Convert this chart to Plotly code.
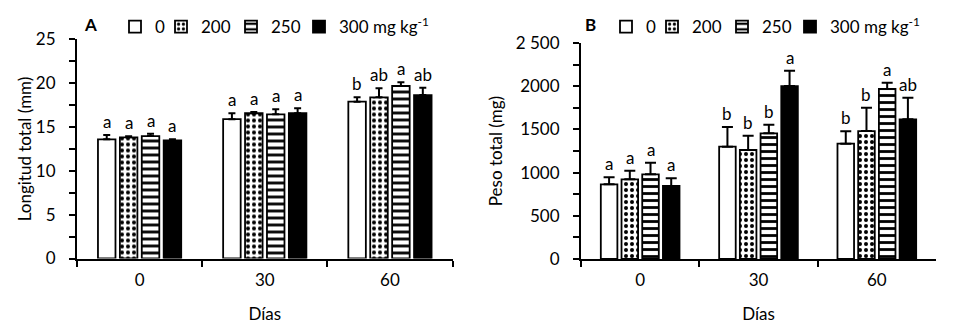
import plotly.graph_objects as go

# ---------------- data ----------------
days = ["0", "30", "60"]
doses = ["0", "200", "250", "300 mg kg<sup>-1</sup>"]

# Panel A: Longitud total (mm)
len_0 = [13.6, 15.9, 17.9]
len_0_err = [0.5, 0.69, 0.5]
len_200 = [13.83, 16.58, 18.4]
len_200_err = [0.12, 0.14, 1.03]
len_250 = [13.98, 16.46, 19.69]
len_250_err = [0.27, 0.57, 0.42]
len_300 = [13.49, 16.58, 18.66]
len_300_err = [0.11, 0.57, 0.84]
len_letters_0 = ["a", "a", "b"]
len_letters_200 = ["a", "a", "ab"]
len_letters_250 = ["a", "a", "a"]
len_letters_300 = ["a", "a", "ab"]

# Panel B: Peso total (mg)
peso_0 = [865, 1300, 1335]
peso_0_err = [80, 228, 143]
peso_200 = [922, 1262, 1481]
peso_200_err = [100, 165, 270]
peso_250 = [980, 1455, 1968]
peso_250_err = [135, 100, 73]
peso_300 = [845, 2002, 1617]
peso_300_err = [89, 178, 250]
peso_letters_0 = ["a", "b", "b"]
peso_letters_200 = ["a", "b", "b"]
peso_letters_250 = ["a", "b", "a"]
peso_letters_300 = ["a", "a", "ab"]

len_ticks = [0, 5, 10, 15, 20, 25]
len_ticktext = ["0", "5", "10", "15", "20", "25"]
peso_ticks = [0, 500, 1000, 1500, 2000, 2500]
peso_ticktext = ["0", "500", "1000", "1500", "2000", "2 500"]

# ---------------- styles ----------------
FONT = "Lato"
FS = 17
styles = [
    dict(color="white", pattern=dict(shape="")),
    dict(color="white", pattern=dict(shape=".", size=6, solidity=0.35,
                                      fgcolor="black", bgcolor="white", fillmode="replace")),
    dict(color="white", pattern=dict(shape="-", size=7, solidity=0.4,
                                      fgcolor="black", bgcolor="white", fillmode="replace")),
    dict(color="black", pattern=dict(shape="")),
]
legend_widths = [1, 25, 23, 0]
BARGAP = 0.3

fig = go.Figure()

panels = [
    dict(xa="x", ya="y", legend="legend", cap=3.5,
         vals=[len_0, len_200, len_250, len_300],
         errs=[len_0_err, len_200_err, len_250_err, len_300_err],
         letters=[len_letters_0, len_letters_200, len_letters_250, len_letters_300]),
    dict(xa="x2", ya="y2", legend="legend2", cap=5.5,
         vals=[peso_0, peso_200, peso_250, peso_300],
         errs=[peso_0_err, peso_200_err, peso_250_err, peso_300_err],
         letters=[peso_letters_0, peso_letters_200, peso_letters_250, peso_letters_300]),
]

n = len(doses)
slot = (1 - BARGAP) / n
for p in panels:
    for k in range(n):
        st = styles[k]
        kw = {}
        if legend_widths[k]:
            kw["legendwidth"] = legend_widths[k]
        fig.add_trace(go.Bar(
            x=days, y=p["vals"][k], name=doses[k],
            xaxis=p["xa"], yaxis=p["ya"], legend=p["legend"],
            marker=dict(color=st["color"], line=dict(color="black", width=1.8),
                        pattern=st["pattern"]),
            error_y=dict(type="data", symmetric=False, array=p["errs"][k],
                         arrayminus=[0] * len(days), color="black",
                         thickness=2, width=p["cap"]),
            **kw,
        ))
        offset = -(1 - BARGAP) / 2 + slot * (k + 0.5)
        for i, d in enumerate(days):
            fig.add_annotation(
                x=i + offset, y=p["vals"][k][i] + p["errs"][k][i],
                xref=p["xa"], yref=p["ya"], text=p["letters"][k][i],
                showarrow=False, yanchor="bottom", yshift=1,
                font=dict(family=FONT, size=FS, color="black"))

axis_common = dict(showline=True, linecolor="black", linewidth=2,
                   showgrid=False, zeroline=False, ticks="outside",
                   tickcolor="black", tickwidth=2, ticklen=6, automargin=False,
                   tickfont=dict(family=FONT, size=FS, color="black"))

fig.update_layout(
    width=960, height=331,
    margin=dict(l=0, r=0, t=0, b=0),
    paper_bgcolor="white", plot_bgcolor="white",
    barmode="group", bargap=BARGAP, bargroupgap=0.2,
    font=dict(family=FONT, size=FS, color="black"),
    xaxis=dict(domain=[0.0802, 0.4714], type="category", tickson="boundaries",
               anchor="y", ticklabelstandoff=5,
               title=dict(text="Días", font=dict(family=FONT, size=FS), standoff=19),
               **axis_common),
    yaxis=dict(domain=[0.219, 0.8807], range=[0, 25], anchor="x",
               tickvals=len_ticks, ticktext=len_ticktext, ticklabelstandoff=10,
               minor=dict(dtick=2.5, ticks="outside", ticklen=6, tickwidth=2, tickcolor="black"),
               title=dict(text="Longitud total (mm)", font=dict(family=FONT, size=FS), standoff=0),
               **axis_common),
    xaxis2=dict(domain=[0.6052, 0.975], type="category", tickson="boundaries",
                anchor="y2", ticklabelstandoff=5,
                title=dict(text="Días", font=dict(family=FONT, size=FS), standoff=19),
                **axis_common),
    yaxis2=dict(domain=[0.2175, 0.870], range=[0, 2500], anchor="x2",
                tickvals=peso_ticks, ticktext=peso_ticktext, ticklabelstandoff=10,
                minor=dict(dtick=250, ticks="outside", ticklen=6, tickwidth=2, tickcolor="black"),
                title=dict(text="Peso total (mg)", font=dict(family=FONT, size=FS), standoff=9),
                **axis_common),
    legend=dict(orientation="h", x=115 / 960, xanchor="left", y=1 - 9 / 331, yanchor="top",
                font=dict(family=FONT, size=17), bgcolor="rgba(0,0,0,0)",
                itemclick=False, traceorder="normal"),
    legend2=dict(orientation="h", x=606 / 960, xanchor="left", y=1 - 9 / 331, yanchor="top",
                 font=dict(family=FONT, size=17), bgcolor="rgba(0,0,0,0)",
                 itemclick=False, traceorder="normal"),
    showlegend=True,
)

fig.add_annotation(text="<b>A</b>", xref="paper", yref="paper", x=90.5 / 960, y=1 - 24.5 / 331,
                   xanchor="center", yanchor="middle",
                   showarrow=False, font=dict(family=FONT, size=FS, color="black"))
fig.add_annotation(text="<b>B</b>", xref="paper", yref="paper", x=590 / 960, y=1 - 24.5 / 331,
                   xanchor="center", yanchor="middle",
                   showarrow=False, font=dict(family=FONT, size=FS, color="black"))

fig.write_html("out.html")
